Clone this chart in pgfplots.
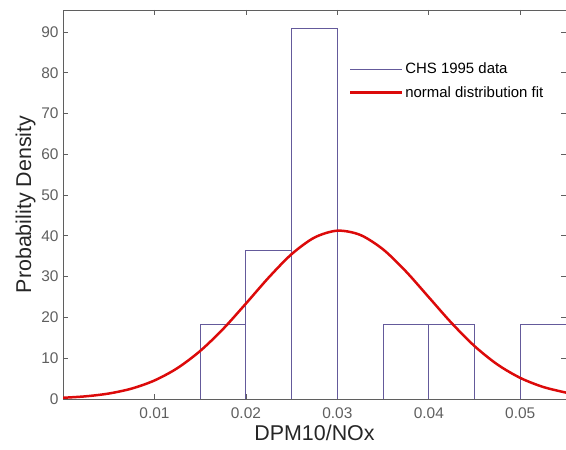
\documentclass[border=0pt]{standalone}
\usepackage{fontspec}
\setmainfont{Liberation Sans}
\usepackage{pgfplots}
\pgfplotsset{compat=1.18}
\definecolor{barcol}{RGB}{100,90,155}
\definecolor{fitred}{RGB}{220,10,10}
\definecolor{axgray}{RGB}{95,95,95}
\begin{document}
\begin{tikzpicture}
\begin{axis}[
  scale only axis,
  width=503bp, height=389bp,
  xmin=0, xmax=0.055, ymin=0, ymax=95.4,
  scaled x ticks=false,
  xtick={0.01,0.02,0.03,0.04,0.05},
  xticklabels={0.01,0.02,0.03,0.04,0.05},
  ytick={0,10,20,30,40,50,60,70,80,90},
  tick align=inside,
  major tick length=5bp,
  tick style={color=axgray, line width=0.8pt},
  axis line style={color=axgray, line width=0.8pt},
  /pgf/number format/assume math mode=true,
  tick label style={font=\fontsize{15.5}{15.5}\selectfont, text=axgray},
  xticklabel style={yshift=-5bp},
  yticklabel style={xshift=-1bp},
  xlabel={DPM10/NOx},
  ylabel={Probability Density},
  label style={font=\fontsize{21.5}{22}\selectfont, text=black!85},
  xlabel style={yshift=0bp},
  ylabel style={yshift=-1bp},
  legend style={draw=none, fill=none, at={(rel axis cs:0.566,0.872)}, anchor=north west,
    font=\fontsize{15}{15}\selectfont, row sep=7bp, inner sep=1bp},
  legend cell align=left,
  clip=true,
]
\addplot[ybar interval, draw=barcol, fill=none, line width=0.9pt,
  legend image code/.code={\draw[barcol, line width=0.9pt] (0bp,0bp) -- (52bp,0bp);}]
  coordinates {
  (0.015,18.18) (0.020,36.36) (0.025,90.91) (0.030,0) (0.035,18.18)
  (0.040,18.18) (0.045,0) (0.050,18.18) (0.055,18.18)
  };
\addlegendentry{CHS 1995 data}
\addplot[smooth, color=fitred, line width=2.5pt,
  legend image code/.code={\draw[fitred, line width=2.5pt] (0bp,0bp) -- (52bp,0bp);}]
  coordinates {
  (0,0.30) (0.0025,0.66) (0.005,1.34) (0.0075,2.55) (0.01,4.54)
  (0.0125,7.56) (0.015,11.78) (0.0175,17.16) (0.02,23.40) (0.0225,29.81)
  (0.025,35.53) (0.0275,39.60) (0.03,41.28) (0.0325,40.24) (0.035,36.69)
  (0.0375,31.28) (0.04,24.95) (0.0425,18.61) (0.045,12.97) (0.0475,8.46)
  (0.05,5.17) (0.0525,2.95) (0.055,1.57)
  };
\addlegendentry{normal distribution fit}
\end{axis}
\pgfresetboundingbox
\path[use as bounding box] ([shift={(-63bp,-51bp)}]current axis.south west) rectangle ([shift={(503bp,399bp)}]current axis.south west);
\end{tikzpicture}
\end{document}
